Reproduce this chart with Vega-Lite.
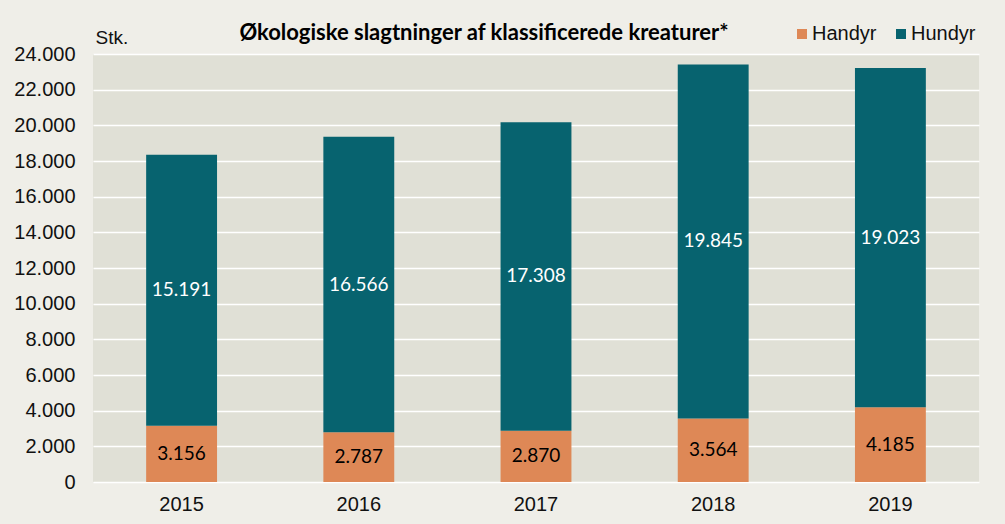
{
  "$schema": "https://vega.github.io/schema/vega-lite/v6.json",
  "width": 886,
  "height": 428,
  "autosize": {"type": "none"},
  "padding": {"left": 93, "top": 54, "right": 26, "bottom": 42},
  "background": "#efeee8",
  "title": {
    "text": "Økologiske slagtninger af klassificerede kreaturer*",
    "font": "Lato",
    "fontWeight": "bold",
    "fontSize": 22,
    "color": "#000000",
    "anchor": "middle",
    "dx": -52,
    "offset": -21
  },
  "config": {
    "locale": {"number": {"decimal": ",", "thousands": ".", "grouping": [3], "currency": ["", " kr."]}},
    "view": {"fill": "#e0e0d6", "stroke": null},
    "axisY": {
      "title": "Stk.",
      "titleAngle": 0,
      "titleX": 2,
      "titleY": -11,
      "titleAlign": "left",
      "titleBaseline": "alphabetic",
      "titleFont": "Liberation Sans",
      "titleFontSize": 19,
      "titleFontWeight": "normal",
      "titleColor": "#111111",
      "labelOverlap": false,
      "domain": false,
      "ticks": false,
      "tickSize": 0,
      "labelPadding": 18,
      "labelFont": "Liberation Sans",
      "labelFontSize": 20,
      "labelColor": "#111111",
      "grid": true,
      "gridColor": "#ffffff",
      "gridWidth": 1.5,
      "gridOpacity": 1
    }
  },
  "data": {
    "values": [
      {"year": "2015", "type": "Handyr", "value": 3156},
      {"year": "2015", "type": "Hundyr", "value": 15191},
      {"year": "2016", "type": "Handyr", "value": 2787},
      {"year": "2016", "type": "Hundyr", "value": 16566},
      {"year": "2017", "type": "Handyr", "value": 2870},
      {"year": "2017", "type": "Hundyr", "value": 17308},
      {"year": "2018", "type": "Handyr", "value": 3564},
      {"year": "2018", "type": "Hundyr", "value": 19845},
      {"year": "2019", "type": "Handyr", "value": 4185},
      {"year": "2019", "type": "Hundyr", "value": 19023}
    ]
  },
  "transform": [
    {"stack": "value", "groupby": ["year"], "sort": [{"field": "type", "order": "ascending"}], "as": ["v0", "v1"]},
    {"calculate": "(datum.v0 + datum.v1) / 2", "as": "vmid"}
  ],
  "encoding": {
    "x": {
      "field": "year",
      "type": "nominal",
      "scale": {"paddingInner": 0.6, "paddingOuter": 0.3},
      "axis": {
        "title": null,
        "labelAngle": 0,
        "domain": false,
        "ticks": false,
        "tickSize": 0,
        "labelPadding": 12,
        "labelFont": "Liberation Sans",
        "labelFontSize": 20,
        "labelColor": "#111111"
      }
    }
  },
  "layer": [
    {
      "mark": {"type": "bar", "strokeWidth": 0},
      "encoding": {
        "y": {
          "field": "v0",
          "type": "quantitative",
          "scale": {"domain": [0, 24000]},
          "axis": {
            "title": "Stk.",
            "values": [0, 2000, 4000, 6000, 8000, 10000, 12000, 14000, 16000, 18000, 20000, 22000, 24000],
            "format": ",.0f"
          }
        },
        "y2": {"field": "v1"},
        "color": {
          "field": "type",
          "type": "nominal",
          "scale": {"domain": ["Handyr", "Hundyr"], "range": ["#de8856", "#07636f"]},
          "legend": {
            "title": null,
            "orient": "none",
            "direction": "horizontal",
            "legendX": 699,
            "legendY": -30,
            "padding": 0,
            "symbolType": "square",
            "symbolSize": 100,
            "symbolStrokeWidth": 0,
            "labelFont": "Liberation Sans",
            "labelFontSize": 20,
            "labelColor": "#111111",
            "labelOffset": 0,
            "columnPadding": 14
          }
        }
      }
    },
    {
      "mark": {"type": "text", "font": "Lato", "fontSize": 19, "baseline": "middle", "align": "center"},
      "encoding": {
        "y": {
          "field": "vmid",
          "type": "quantitative",
          "axis": {
            "title": "Stk.",
            "values": [0, 2000, 4000, 6000, 8000, 10000, 12000, 14000, 16000, 18000, 20000, 22000, 24000],
            "format": ",.0f"
          }
        },
        "text": {"field": "value", "type": "quantitative", "format": ",.0f"},
        "color": {
          "condition": {"test": "datum.type === 'Hundyr'", "value": "#ffffff"},
          "value": "#000000"
        }
      }
    }
  ]
}
